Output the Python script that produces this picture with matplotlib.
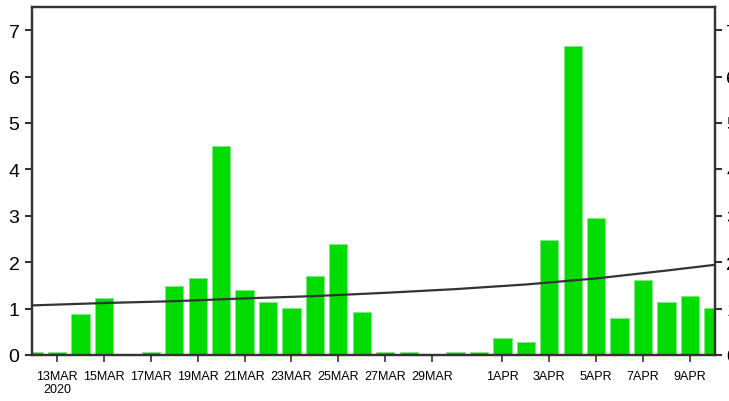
import matplotlib
matplotlib.use("Agg")
import matplotlib.pyplot as plt
import numpy as np
import pandas as pd

dates = pd.date_range("2020-03-12", "2020-04-10", freq="D")
values = [0.07, 0.07, 0.88, 1.23, 0.03, 0.07, 1.48, 1.65, 4.51, 1.40,
          1.15, 1.01, 1.70, 2.39, 0.93, 0.07, 0.06, 0.02, 0.06, 0.06,
          0.37, 0.28, 2.48, 6.67, 2.95, 0.80, 1.62, 1.15, 1.27, 1.02]

trend_dates = pd.to_datetime(["2020-03-12", "2020-03-15", "2020-03-18", "2020-03-21",
                              "2020-03-24", "2020-03-27", "2020-03-30", "2020-04-02",
                              "2020-04-05", "2020-04-08", "2020-04-10"])
trend_values = [1.07, 1.12, 1.16, 1.22, 1.27, 1.34, 1.42, 1.52, 1.65, 1.82, 1.94]

tick_dates = pd.to_datetime(["2020-03-13", "2020-03-15", "2020-03-17", "2020-03-19",
                             "2020-03-21", "2020-03-23", "2020-03-25", "2020-03-27",
                             "2020-03-29", "2020-04-01", "2020-04-03", "2020-04-05",
                             "2020-04-07", "2020-04-09"])
tick_labels = ["13MAR\n2020", "15MAR", "17MAR", "19MAR", "21MAR", "23MAR", "25MAR",
               "27MAR", "29MAR", "1APR", "3APR", "5APR", "7APR", "9APR"]
y_ticks = [0, 1, 2, 3, 4, 5, 6, 7]

plt.rcParams["font.family"] = ["Liberation Sans", "DejaVu Sans"]

fig = plt.figure(figsize=(7.29, 4.02), dpi=100)
W, H = 729, 402
ax = fig.add_axes([32 / W, (H - 356) / H, (715 - 32) / W, (356 - 8) / H])

x = np.array([(d - dates[0]).days for d in dates])
xt = np.array([(d - dates[0]).days for d in tick_dates])
xtr = np.array([(d - dates[0]).days for d in trend_dates])

ax.bar(x, values, width=0.78, color="#00dc00", edgecolor="#7ee87e", linewidth=0.5, zorder=2)
ax.plot(xtr, trend_values, color="#333333", linewidth=1.6, zorder=3)

ax.set_xlim(-0.07, x[-1] + 0.07)
ax.set_ylim(0, 7.5)
ax.set_xticks(xt)
ax.set_xticklabels(tick_labels, fontsize=9, linespacing=1.1)
ax.set_yticks(y_ticks)
ax.set_yticklabels([str(v) for v in y_ticks], fontsize=14)
ax.tick_params(axis="x", direction="out", length=5, width=1.2, color="#333333", pad=6)
ax.tick_params(axis="y", direction="out", length=5, width=1.5, color="#333333", pad=4)
for s in ax.spines.values():
    s.set_linewidth(1.6)
    s.set_color("#333333")

ax2 = ax.twinx()
ax2.set_ylim(ax.get_ylim())
ax2.set_yticks(y_ticks)
ax2.set_yticklabels([str(v) for v in y_ticks], fontsize=14)
ax2.tick_params(axis="y", direction="out", length=5, width=1.5, color="#333333", pad=3)
for s in ax2.spines.values():
    s.set_linewidth(1.6)
    s.set_color("#333333")

fig.savefig("out.png", dpi=100)
